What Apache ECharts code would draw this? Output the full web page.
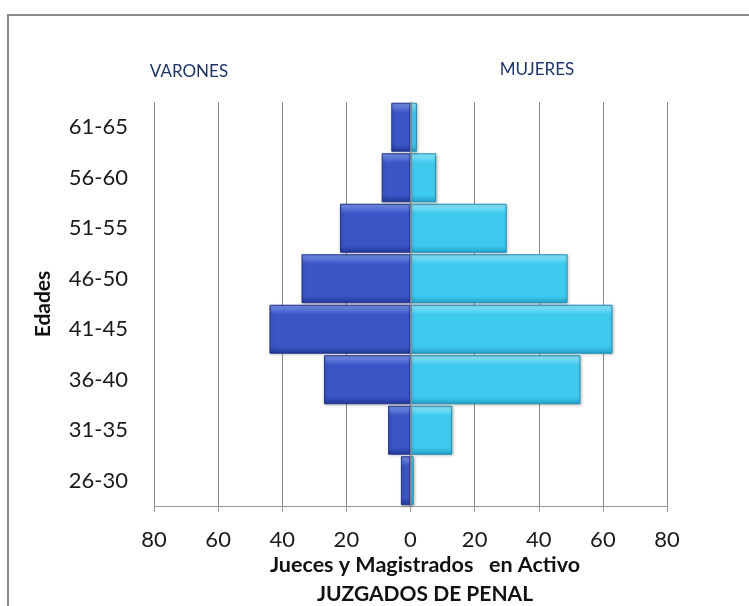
<!DOCTYPE html>
<html>
<head>
<meta charset="utf-8">
<script src="https://cdn.jsdelivr.net/npm/echarts@6/dist/echarts.min.js"></script>
<style>html,body{margin:0;padding:0;background:#fff}#c{width:749px;height:606px}</style>
</head>
<body>
<div id="c"></div>
<script>
const categories = ['26-30','31-35','36-40','41-45','46-50','51-55','56-60','61-65'];
const varones = [3, 7, 27, 44, 34, 22, 9, 6];
const mujeres = [1, 13, 53, 63, 49, 30, 8, 2];
const xTicks = [-80, -60, -40, -20, 0, 20, 40, 60, 80];

const chart = echarts.init(document.getElementById('c'));
const font = 'Lato, "Open Sans", sans-serif';
function grad(top, mid, bot) {
  return new echarts.graphic.LinearGradient(0, 0, 0, 1, [
    {offset: 0, color: top}, {offset: 0.2, color: mid}, {offset: 0.85, color: mid}, {offset: 1, color: bot}
  ]);
}
chart.setOption({
  animation: false,
  backgroundColor: '#fff',
  grid: {left: 154, right: 82, top: 102, bottom: 100},
  xAxis: {
    type: 'value', min: xTicks[0], max: xTicks[xTicks.length - 1], interval: 20,
    axisLine: {show: true, lineStyle: {color: '#9a9a9a', width: 1}},
    axisTick: {show: true, length: 6, lineStyle: {color: '#9a9a9a'}},
    splitLine: {show: true, lineStyle: {color: '#8c8c8c', width: 1}},
    axisLabel: {fontSize: 22, color: '#1a1a1a', fontFamily: font, margin: 23,
      formatter: v => String(Math.abs(v))}
  },
  yAxis: {
    type: 'category', data: categories,
    axisLine: {show: false}, axisTick: {show: false},
    axisLabel: {fontSize: 22, color: '#1a1a1a', fontFamily: font, margin: 26},
    name: 'Edades', nameLocation: 'middle', nameRotate: 90, nameGap: 100,
    nameTextStyle: {fontSize: 21, fontWeight: 'bold', color: '#111', fontFamily: font}
  },
  series: [
    {
      name: 'VARONES', type: 'bar', data: varones.map(v => -v),
      barGap: '-100%', barCategoryGap: '3%',
      itemStyle: {color: grad('#7a94ea', '#3a56c6', '#22379a'), borderColor: '#22358f', borderWidth: 1,
        shadowColor: 'rgba(0,0,0,0.25)', shadowBlur: 3, shadowOffsetX: 1, shadowOffsetY: 1}
    },
    {
      name: 'MUJERES', type: 'bar', data: mujeres,
      barGap: '-100%', barCategoryGap: '3%',
      itemStyle: {color: grad('#95eafc', '#3ec9ef', '#23a3cc'), borderColor: '#1f8fb6', borderWidth: 1,
        shadowColor: 'rgba(0,0,0,0.25)', shadowBlur: 3, shadowOffsetX: 1, shadowOffsetY: 1},
      markLine: {silent: true, symbol: 'none', label: {show: false},
        lineStyle: {color: '#8c8c8c', width: 1.5, type: 'solid'}, data: [{xAxis: 0}]}
    }
  ],
  graphic: [
    {type: 'polyline', shape: {points: [[8, 606], [8, 15], [749, 15]]},
      style: {stroke: '#8a8a8a', lineWidth: 2, fill: null}},
    {type: 'text', x: 189, y: 72, style: {text: 'VARONES', fontSize: 17, fill: '#1f3468', fontFamily: font,
      align: 'center', verticalAlign: 'middle'}},
    {type: 'text', x: 537, y: 70, style: {text: 'MUJERES', fontSize: 17, fill: '#1f3468', fontFamily: font,
      align: 'center', verticalAlign: 'middle'}},
    {type: 'text', x: 425, y: 565, style: {text: 'Jueces y Magistrados   en Activo', fontSize: 21.5, fontWeight: 'bold',
      fill: '#111', fontFamily: font, align: 'center', verticalAlign: 'middle'}},
    {type: 'text', x: 425, y: 594, style: {text: 'JUZGADOS DE PENAL', fontSize: 21, fontWeight: 'bold',
      fill: '#111', fontFamily: font, align: 'center', verticalAlign: 'middle'}}
  ]
});
</script>
</body>
</html>
